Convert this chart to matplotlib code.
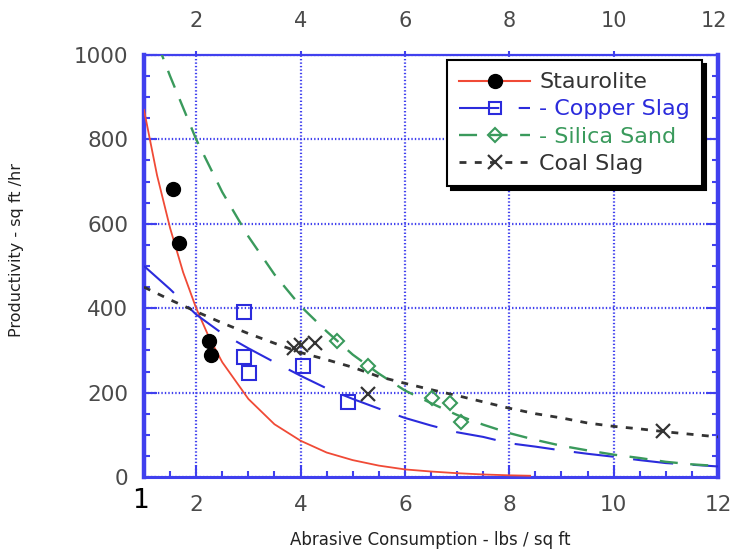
#!/usr/bin/env python3
"""
Productivity vs abrasive consumption for four blasting abrasives.
"""
import matplotlib.pyplot as plt
from matplotlib.lines import Line2D
from matplotlib.ticker import MultipleLocator, FixedLocator

plt.rcParams['lines.scale_dashes'] = False

# Staurolite: measured points and fitted curve
staur_x = [1.55, 1.68, 2.25, 2.28]
staur_y = [682, 555, 322, 290]
staur_fit_x = [1, 1.25, 1.5, 1.75, 2, 2.25, 2.5, 3, 3.5, 4, 4.5, 5, 5.5, 6, 6.5, 7, 7.5, 8, 8.4]
staur_fit_y = [870, 715, 590, 485, 400, 330, 272, 185, 125, 86, 58, 40, 27, 18, 13, 9, 6, 4, 3]

# Copper slag
copper_x = [2.92, 2.92, 3.01, 4.04, 4.9]
copper_y = [392, 285, 246, 263, 178]
copper_fit_x = [1, 1.5, 2, 2.5, 3, 3.5, 4, 4.5, 5, 5.5, 6, 6.5, 7, 7.5, 8, 8.5, 9, 9.5, 10, 10.5, 11, 11.5, 12]
copper_fit_y = [500, 445, 385, 340, 305, 272, 240, 210, 185, 162, 140, 122, 106, 95, 80, 72, 63, 55, 48, 40, 33, 29, 25]

# Silica sand
silica_x = [4.69, 5.3, 6.52, 6.87, 7.07]
silica_y = [323, 263, 187, 176, 131]
silica_fit_x = [1.25, 1.5, 2, 2.5, 3, 3.5, 4, 4.5, 5, 5.5, 6, 6.5, 7, 7.5, 8, 8.5, 9, 9.5, 10, 10.5, 11, 11.5, 12]
silica_fit_y = [1030, 950, 800, 675, 570, 480, 405, 345, 290, 245, 205, 175, 147, 124, 104, 88, 74, 63, 53, 45, 36, 30, 26]

# Coal slag
coal_x = [3.88, 4.0, 4.27, 5.3, 10.95]
coal_y = [305, 312, 318, 196, 110]
coal_fit_x = [1, 1.5, 2, 2.5, 3, 3.5, 4, 4.5, 5, 5.5, 6, 6.5, 7, 7.5, 8, 8.5, 9, 9.5, 10, 10.5, 11, 11.5, 12]
coal_fit_y = [450, 420, 392, 365, 340, 317, 295, 278, 260, 238, 222, 207, 193, 178, 163, 150, 140, 128, 120, 114, 107, 101, 95]

labels = ['Staurolite', '- Copper Slag', '- Silica Sand', 'Coal Slag']
top_ticks = [2, 4, 6, 8, 10]

BLUE = '#4040ee'
RED = '#f04a36'
CU = '#2b2bdc'
GREEN = '#3a9a5c'
COAL = '#333333'
TICK_TXT = '#4a4a4a'

fig = plt.figure(figsize=(7.38, 5.56), dpi=100)
ax = fig.add_axes([144/738, 79/556, 574/738, 422/556])

# fitted curves
ax.plot(staur_fit_x, staur_fit_y, color=RED, lw=1.3, zorder=3)
ax.plot(copper_fit_x, copper_fit_y, color=CU, lw=1.5, dashes=(29, 14), zorder=3)
ax.plot(silica_fit_x, silica_fit_y, color=GREEN, lw=1.7, dashes=(13, 9), zorder=3)
ax.plot(coal_fit_x, coal_fit_y, color=COAL, lw=2.0, dashes=(5, 6), zorder=3)

# measured points
ax.plot(staur_x, staur_y, 'o', color='k', ms=10, zorder=4)
ax.plot(copper_x, copper_y, 's', mfc='none', mec=CU, mew=1.5, ms=10, zorder=4)
ax.plot(silica_x, silica_y, 'D', mfc='none', mec=GREEN, mew=1.5, ms=7, zorder=4)
ax.plot(coal_x, coal_y, 'x', color=COAL, mew=1.6, ms=10, zorder=4)

ax.set_xlim(1, 12)
ax.set_ylim(0, 1000)
ax.xaxis.set_major_locator(MultipleLocator(2))
ax.xaxis.set_minor_locator(MultipleLocator(0.5))
ax.yaxis.set_major_locator(MultipleLocator(200))
ax.yaxis.set_minor_locator(MultipleLocator(50))

ax.grid(True, which='major', color=BLUE, lw=1.6, linestyle=(0, (1, 1.5)))
ax.set_axisbelow(True)

ax.tick_params(which='both', direction='in', color=BLUE, width=1.5,
               labelcolor=TICK_TXT, labelsize=15.5, right=True, top=False)
ax.tick_params(which='major', length=9)
ax.tick_params(which='minor', length=4.5)
ax.tick_params(axis='x', pad=13)
ax.tick_params(axis='y', pad=11.5)

for side in ['left', 'right']:
    ax.spines[side].set_color(BLUE)
    ax.spines[side].set_linewidth(3.2)
ax.spines['bottom'].set_color(BLUE)
ax.spines['bottom'].set_linewidth(2.2)
ax.spines['top'].set_color(BLUE)
ax.spines['top'].set_linewidth(1.6)
ax.spines['top'].set_linestyle((0, (1, 1.5)))

# top tick labels (the "12" is placed by hand a touch inside the edge)
sec = ax.secondary_xaxis('top')
sec.xaxis.set_major_locator(FixedLocator(top_ticks))
sec.tick_params(direction='out', length=3, color=BLUE, width=1.5,
                labelcolor=TICK_TXT, labelsize=15, pad=14)
sec.spines['top'].set_visible(False)
ax.text(11.93, 1.0 + 23.6/422, '12', transform=ax.get_xaxis_transform(),
        ha='center', va='bottom', fontsize=15, color=TICK_TXT)

# the lonely "1" at the lower left corner
ax.text(0.94, -0.057, '1', transform=ax.get_xaxis_transform(), ha='center',
        va='center', fontsize=19, color='k')

fig.text(17/738, 1 - 250/556, 'Productivity - sq ft /hr', rotation=90,
         ha='center', va='center', fontsize=11.5, color='#222222')
fig.text(430/738, 1 - 540/556, 'Abrasive Consumption - lbs / sq ft',
         ha='center', va='center', fontsize=12, color='#222222')

handles = [
    Line2D([], [], color=RED, lw=1.5, marker='o', mfc='k', mec='k', ms=10),
    Line2D([], [], color=CU, lw=1.5, dashes=(29, 14), marker='s', mfc='none', mec=CU, mew=1.5, ms=9),
    Line2D([], [], color=GREEN, lw=1.7, dashes=(13, 9), marker='D', mfc='none', mec=GREEN, mew=1.5, ms=7),
    Line2D([], [], color=COAL, lw=2.0, dashes=(5, 6), marker='x', mew=1.6, ms=10),
]
leg = ax.legend(handles, labels, loc='upper left', bbox_to_anchor=(0.528, 0.988),
                borderaxespad=0, fancybox=False, edgecolor='k', framealpha=1,
                fontsize=16, handlelength=3.2, handletextpad=0.4, labelspacing=0.32,
                borderpad=0.55, labelcolor=[COAL, CU, GREEN, COAL],
                shadow={'ox': 3, 'oy': -3, 'color': 'k', 'alpha': 1})
leg.get_frame().set_linewidth(1.5)
leg.set_zorder(10)

fig.savefig('out.png', dpi=100)
